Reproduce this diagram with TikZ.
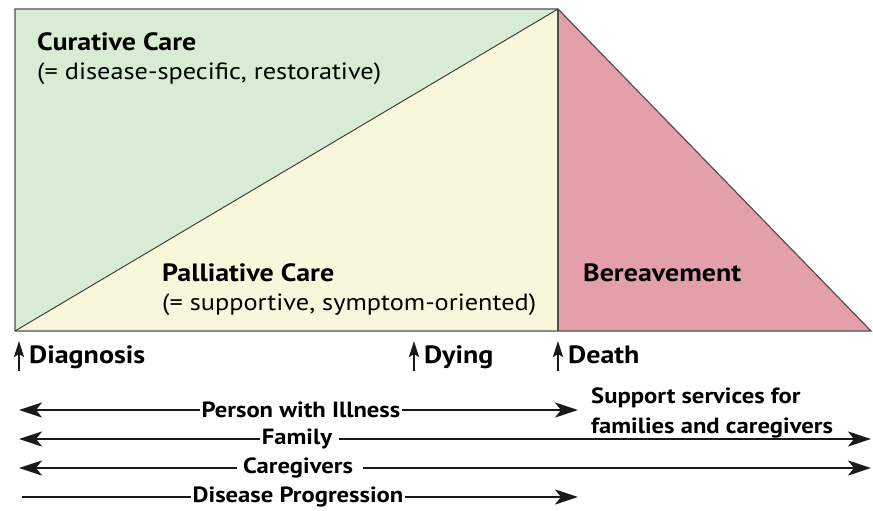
\documentclass[tikz,border=0pt]{standalone}
\usepackage{fontspec}
\setmainfont{PT Sans}[FakeStretch=1.12]
\usetikzlibrary{arrows.meta}
\definecolor{curgreen}{RGB}{216,236,211}
\definecolor{palyellow}{RGB}{249,247,219}
\definecolor{berpink}{RGB}{227,159,170}
\definecolor{edgegray}{RGB}{80,80,80}
\tikzset{
  x=1pt,y=-1pt,
  big/.style={font=\fontsize{25}{29}\selectfont\bfseries,inner sep=0pt,anchor=base west},
  sub/.style={font=\fontsize{23.5}{28}\selectfont,inner sep=0pt,anchor=base west},
  lbl/.style={font=\fontsize{25}{29}\selectfont\bfseries,inner sep=0pt,anchor=base west},
  blbl/.style={font=\fontsize{22}{26}\selectfont\bfseries,inner sep=2pt},
  tl/.style={line width=2.6pt,black!90},
  tip/.style={-{Stealth[length=23pt,width=15pt,inset=6pt]}},
  uptip/.style={line width=2pt,black!90,-{Stealth[length=16pt,width=10pt,inset=3pt]}},
}
\begin{document}
\begin{tikzpicture}
\useasboundingbox (0,0) rectangle (873,511);
% regions
\fill[curgreen] (15,9) -- (558,9) -- (15,331) -- cycle;
\fill[palyellow] (558,9) -- (558,331) -- (15,331) -- cycle;
\fill[berpink] (558,9) -- (871,331) -- (558,331) -- cycle;
\draw[edgegray,line width=1.2pt] (15,331) -- (15,9) -- (558,9) -- (871,331) -- (15,331);
\draw[edgegray,line width=1.2pt] (558,9) -- (558,331);
\draw[black!80,line width=0.9pt] (15,331) -- (558,9);
% region labels
\node[big] (cur) at (37,51) {Curative Care};
\node[sub] (cursub) at (37,80) {(= disease-specific, restorative)};
\node[big] (pal) at (162,281) {Palliative Care};
\node[sub] (palsub) at (162,310) {(= supportive, symptom-oriented)};
\node[big] (ber) at (583,281) {Bereavement};
% milestones
\coordinate (d0) at (19,371);
\coordinate (d1) at (19,341);
\draw[uptip] (d0) -- (d1);
\node[lbl] (diag) at (29,363) {Diagnosis};
\coordinate (y0) at (414,371);
\coordinate (y1) at (414,341);
\draw[uptip] (y0) -- (y1);
\node[lbl] (dying) at (424,363) {Dying};
\coordinate (e0) at (558,371);
\coordinate (e1) at (558,341);
\draw[uptip] (e0) -- (e1);
\node[lbl] (death) at (568,363) {Death};
% support services
\node[blbl,anchor=base west,inner sep=0pt] (sup) at (591,403) {Support services for};
\node[blbl,anchor=base west,inner sep=0pt] (sup2) at (591,433) {families and caregivers};
% row 1
\node[blbl] (pwi) at (301,410) {Person with Illness};
\coordinate (r1l) at (19,410);
\coordinate (r1r) at (578,410);
\draw[tl,tip] (pwi.west) -- (r1l);
\draw[tl,tip] (pwi.east) -- (r1r);
% row 2
\node[blbl] (fam) at (297,439) {Family};
\coordinate (r2l) at (19,439);
\coordinate (r2r) at (871,439);
\draw[tl,tip] (fam.west) -- (r2l);
\draw[tl,tip] ([xshift=5pt]fam.east) -- (r2r);
% row 3
\node[blbl] (care) at (298,468) {Caregivers};
\coordinate (r3l) at (19,468);
\coordinate (r3r) at (871,468);
\draw[tl,tip] ([xshift=-4pt]care.west) -- (r3l);
\draw[tl,tip] ([xshift=8pt]care.east) -- (r3r);
% row 4
\node[blbl] (dp) at (298,497) {Disease Progression};
\coordinate (r4l) at (22,497);
\coordinate (r4r) at (578,497);
\draw[tl] (dp.west) -- (r4l);
\draw[tl,tip] (dp.east) -- (r4r);
\end{tikzpicture}
\end{document}
